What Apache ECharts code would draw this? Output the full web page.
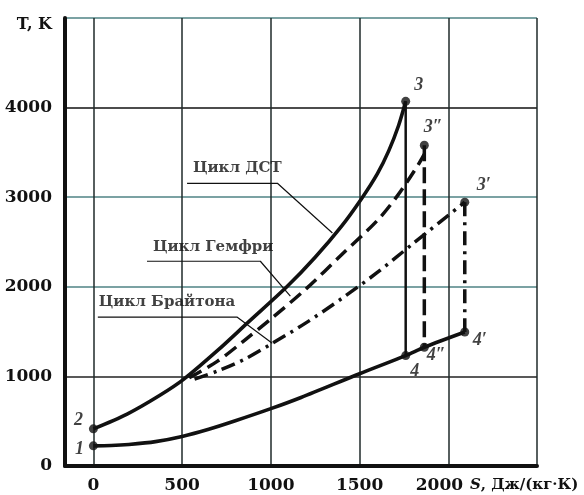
<!DOCTYPE html>
<html><head><meta charset="utf-8">
<script src="https://cdn.jsdelivr.net/npm/echarts@6/dist/echarts.min.js"></script>
<style>html,body{margin:0;padding:0;background:#fff}#c{width:584px;height:495px}</style>
</head><body><div id="c"></div>
<script>
// ---- data (S in J/(kg·K), T in K) ----
const xTickValues = [0, 500, 1000, 1500, 2000, 2500];
const xLabelValues = [0, 500, 1000, 1500, 2000];
const yLabelValues = [0, 1000, 2000, 3000, 4000];

const lowerCurve = [[0,225],[100,228],[200,240],[350,272],[500,330],[650,410],[800,505],[1000,640],[1170,765],[1500,1030],[1760,1232],[1865,1325],[2093,1495]];
const dstCurve = [[0,415],[190,580],[375,790],[510,970],[700,1290],[870,1600],[1090,2000],[1250,2330],[1400,2680],[1510,2980],[1600,3260],[1665,3520],[1720,3800],[1760,4070]];
const dstExpansion = [[1760,4070],[1760,1232]];
const humphreyCurve = [[540,985],[700,1170],[850,1400],[1000,1640],[1200,1980],[1400,2360],[1600,2740],[1715,3020],[1830,3360],[1865,3480]];
const humphreyExpansion = [[1865,3580],[1865,1325]];
const braytonCurve = [[570,970],[700,1060],[850,1190],[1000,1360],[1200,1600],[1400,1870],[1600,2160],[1800,2480],[2093,2945]];
const braytonExpansion = [[2093,2945],[2093,1495]];

const pointNames = ['1','2','3','3″','3′','4','4″','4′'];
const pointValues = [[0,225],[0,415],[1760,4070],[1865,3580],[2093,2945],[1760,1232],[1865,1325],[2093,1495]];

const cycleNames = ['Цикл ДСТ','Цикл Гемфри','Цикл Брайтона'];
const cycleLabelAnchors = [[811,3322],[675,2441],[415,1828]];
const cycleLeaders = [
  [[528,3155],[1037,3155],[1347,2600]],
  [[302,2285],[941,2285],[1110,1895]],
  [[25,1661],[811,1661],[1008,1371]]
];

// ---- styles ----
const SERIF = '"DejaVu Serif", "Liberation Serif", serif';
const INK = '#111';
const pointLabelOffsets = {'1':[-14,4],'2':[-15,-8],'3':[13,-16],'3″':[9,-18],'3′':[19,-17],'4':[9,16],'4″':[12,8],'4′':[15,8]};

const series = [];
function lineSeries(data, type, width, smooth){
  return {type:'line', data, symbol:'none', silent:true, smooth: smooth ? 0.3 : false,
    lineStyle:{color:INK, width, type, cap:'butt', join:'round'}, z:3};
}
series.push(lineSeries(lowerCurve,'solid',3.6,true));
series.push(lineSeries(dstCurve,'solid',3.6,true));
series.push(lineSeries(dstExpansion,'solid',2.5,false));
series.push(lineSeries(humphreyCurve,[14,7],3.5,true));
series.push(lineSeries(humphreyExpansion,[16,6],3.5,false));
series.push(lineSeries(braytonCurve,[14,6,3,6],3.5,true));
series.push(lineSeries(braytonExpansion,[14,6,3,6],3.5,false));

cycleLeaders.forEach(d => series.push({type:'line', data:d, symbol:'none', silent:true, lineStyle:{color:INK,width:1.2}, z:2}));

series.push({
  type:'scatter', symbolSize:9, itemStyle:{color:INK}, z:5,
  data: pointNames.map((n,i)=>({name:n, value:pointValues[i],
    label:{show:true, formatter:n, position:'inside', offset:pointLabelOffsets[n],
      fontFamily:'"Liberation Serif", serif', fontStyle:'italic', fontWeight:'bold', fontSize:18, color:INK}}))
});

series.push({
  type:'scatter', symbolSize:0, silent:true, z:4,
  data: cycleNames.map((n,i)=>({name:n, value:cycleLabelAnchors[i]})),
  label:{show:true, position:'inside', formatter:p=>p.name, fontFamily:SERIF, fontWeight:'bold', fontSize:15, color:INK}
});

const chart = echarts.init(document.getElementById('c'));
chart.setOption({
  animation:false,
  backgroundColor:'#fff',
  grid:{left:65, right:47, top:18, bottom:29, containLabel:false},
  xAxis:{
    type:'value', min:-160, max:2500,
    axisLine:{show:true, onZero:false, lineStyle:{color:INK, width:4}},
    axisTick:{show:false, customValues:xTickValues},
    axisLabel:{customValues:xLabelValues, margin:11, fontFamily:SERIF, fontWeight:'bold', fontSize:17, color:INK,
      formatter:v => v === 2000 ? '2000   ' : String(v)},
    splitLine:{show:true, lineStyle:{color:'#1f2a2a', width:1.5}}
  },
  yAxis:{
    type:'value', min:0, max:5000, interval:1000,
    axisLine:{show:true, onZero:false, lineStyle:{color:INK, width:4}},
    axisTick:{show:false},
    axisLabel:{margin:13, fontFamily:SERIF, fontWeight:'bold', fontSize:17, color:INK,
      formatter:v => yLabelValues.includes(v) ? String(v) : ''},
    splitLine:{show:true, lineStyle:{color:['#2a3a3a','#222','#4f8385','#4f8385','#111','#4f8385'], width:1.5}}
  },
  graphic:[
    {type:'text', x:52, y:25, style:{text:'T, K', font:'bold 16px '+SERIF, fill:INK, align:'right', verticalAlign:'middle'}},
    {type:'text', x:470, y:485, style:{text:'{i|S}, Дж/(кг·К)', font:'bold 15px '+SERIF, fill:INK, align:'left', verticalAlign:'middle',
      rich:{i:{fontStyle:'italic', fontWeight:'bold', fontSize:15, fontFamily:'"DejaVu Serif", serif'}}}}
  ],
  series
});
</script></body></html>
